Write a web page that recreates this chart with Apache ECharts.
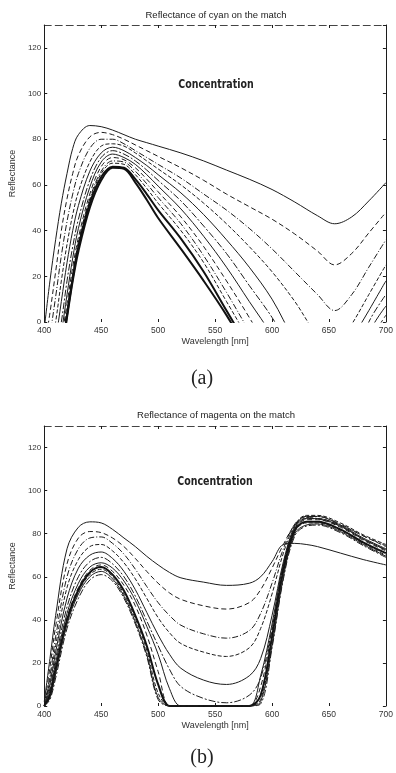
<!DOCTYPE html>
<html>
<head>
<meta charset="utf-8">
<script src="https://cdn.jsdelivr.net/npm/echarts@6/dist/echarts.min.js"></script>
<style>
html,body{margin:0;padding:0;background:#fff;}
#chart{width:396px;height:773px;}
</style>
</head>
<body>
<div id="chart"></div>
<script>
// ---------- Data ----------
const xTicks = [400, 450, 500, 550, 600, 650, 700];
const yTicks = [0, 20, 40, 60, 80, 100, 120];

// (a) Reflectance of cyan on the match
const wlCyan = [400,405,410,415,420,425,430,440,450,460,470,480,490,500,520,540,560,580,600,620,640,655,670,685,700];
const cyan1  = [-3,18,36,52,65,76,82,86,85.5,84,82,80,78.5,77,74,70.5,66.5,62.5,58,52.5,46.5,43,46,53,61];
const cyan2  = [-12,4,22,40,54,65,73,81,83,82,80,77.5,75,72.5,67.5,62,56,50.5,45,38.5,31,25,30,39,48];
const cyan3  = [-22,-6,11,29,44,56,65,76,80,80,78,75,72,69,63,56,49,41,32,22,12,5,12,24,36];
const cyan4  = [-30,-14,0,18,34,47,57,70,77,78,77,74,70.5,67,60,52,43,33,22,9,-6,-12,-1,12,25];
const cyan5  = [-38,-22,-8,9,26,40,51,66,74,76.5,75,72,68.5,64.5,56.5,47,36,24,10,-8,-20,-25,-8,5,18];
const cyan6  = [-45,-30,-14,0,18,33,45,62,72,75,73.5,70.5,66.5,62,53,42,30,16,2,-15,-30,-35,-20,0,12];
const cyan7  = [-50,-35,-20,-5,12,28,41,59,70,73.5,72,69,64.5,59.5,49.5,37.5,24,9,-6,-25,-40,-45,-30,-5,7];
const cyan8  = [-55,-40,-25,-8,8,24,37,56,68,72,71,67.5,62.5,57,46,33,18,2,-15,-35,-50,-55,-35,-10,3];
const cyan9  = [-57,-42,-27,-10,5,21,35,54,66,70.5,70,66,60.5,54.5,43,29,13,-4,-20,-40,-55,-60,-45,-20,-2];
const cyan10 = [-58,-43,-28,-12,4,20,34,53,65,69.5,69,64.5,58.5,52,40,26,9,-8,-25,-45,-60,-65,-50,-25,-5];
const cyan11 = [-59,-44,-29,-14,3,19,33,52,63.5,68,67.5,62.5,56,49,36.5,22,5,-12,-30,-50,-65,-70,-55,-30,-8];
const cyan12 = [-60,-45,-30,-15,2,18,31,50,62,67.5,67,61,53.5,45.5,32,18,3,-14,-32,-52,-68,-72,-58,-32,-10];

// (b) Reflectance of magenta on the match
const wlMagenta = [400,405,410,420,430,440,450,460,470,480,490,500,510,520,540,560,580,590,600,610,620,630,640,660,680,700];
const magenta1  = [2,22,42,73,83,85.5,85,82,78,74,69.5,65.5,62,59.5,57.5,56,57,60,67,75,75.5,75,74,71,68,65.5];
const magenta2  = [0,18,37,66,78,81,80.5,78,74,68.5,62.5,57,52.5,49.5,46.5,45,48,54,64,75,84,87,87,84,79,74];
const magenta3  = [0,14,32,60,73,78,78.5,75.5,70.5,63.5,55.5,48,42,37.5,33.5,31.5,35,43,57,73,84.5,88,88,84.5,79,74.5];
const magenta4  = [0,12,28,55,68,74,75,72,66.5,59,50,41,34,29,25,23,27,36,52,71,84,88.5,88.5,85,79.5,75];
const magenta5  = [0,10,25,50,64,70,71.5,68.5,62.5,54,43.5,33,24,17.5,12,10,14,22,42,67,83.5,88,88,84,78,73];
const magenta6  = [0,8,22,46,60,67,69,66,60,51,39.5,28,17,9,3.5,1.5,5,13,36,65,83,87.5,87,83.5,77.5,72.5];
const magenta7  = [0,7,20,43,57,64.5,66.5,64,58,49,37,24,8,0,0,0,0,14,38,66,82.5,87,87,83.5,77.5,72.5];
const magenta8  = [0,6,18,41,55,63,65.5,62.5,56,46.5,33,16,0,0,0,0,0,9,35,64,82,86.5,86.5,83,77,72];
const magenta9  = [0,5,17,40,54,62,64.5,61,53.5,42,28,10,0,0,0,0,0,5,32,63,81.5,85.5,85.5,82,76,71];
const magenta10 = [0,4,16,39,53,61,63.5,60,52,40.5,26,6,0,0,0,0,0,3,30,62,81,85,85,81.5,75.5,70];
const magenta11 = [0,4,15,38,52,60,62.5,59,51,39,24,4,0,0,0,0,0,2,28,60,80,84,84.5,81,75,69.5];
const magenta12 = [0,3,13,36,50,58.5,61,58,50,38,23,3,0,0,0,0,0,1,27,59,79,83.5,84,80.5,74.5,69];

const cyanCurves = [cyan1,cyan2,cyan3,cyan4,cyan5,cyan6,cyan7,cyan8,cyan9,cyan10,cyan11,cyan12];
const magentaCurves = [magenta1,magenta2,magenta3,magenta4,magenta5,magenta6,magenta7,magenta8,magenta9,magenta10,magenta11,magenta12];

// ---------- Chart ----------
const chart = echarts.init(document.getElementById('chart'), null, {renderer:'canvas'});
const FONT = 'Liberation Sans';
const INK = '#1c1c1c';
const dashTypes = ['solid', [5,3], [6,2,1,2], [4,2], 'solid', [7,2,2,2]];

function xAxes(gi) {
  return [
    {gridIndex:gi, type:'value', min:400, max:700, interval:50, position:'bottom',
     axisLine:{show:false, onZero:false}, axisTick:{show:true, inside:true, length:3, lineStyle:{color:INK}},
     axisLabel:{fontSize:8.5, color:'#333', fontFamily:FONT, margin:4}, splitLine:{show:false},
     name:'Wavelength [nm]', nameLocation:'middle', nameGap:15,
     nameTextStyle:{fontSize:9, color:'#333', fontFamily:FONT}},
    {gridIndex:gi, type:'value', min:400, max:700, interval:50, position:'top',
     axisLine:{show:true, onZero:false, lineStyle:{color:'#444', width:1, type:[7,4]}},
     axisTick:{show:true, inside:true, length:3, lineStyle:{color:INK}},
     axisLabel:{show:false}, splitLine:{show:false}}
  ];
}
function yAxes(gi) {
  return [
    {gridIndex:gi, type:'value', min:0, max:130, interval:20, position:'left',
     axisLine:{show:true, onZero:false, lineStyle:{color:INK, width:1}},
     axisTick:{show:true, inside:true, length:3, lineStyle:{color:INK}},
     axisLabel:{fontSize:8, color:'#333', fontFamily:FONT, margin:3, showMaxLabel:false},
     splitLine:{show:false},
     name:'Reflectance', nameLocation:'middle', nameGap:22,
     nameTextStyle:{fontSize:9, color:'#333', fontFamily:FONT}},
    {gridIndex:gi, type:'value', min:0, max:130, interval:20, position:'right',
     axisLine:{show:true, onZero:false, lineStyle:{color:INK, width:1}},
     axisTick:{show:true, inside:true, length:3, lineStyle:{color:INK}},
     axisLabel:{show:false}, splitLine:{show:false}}
  ];
}

const series = [];
function addCurves(wl, curves, xi, yi, thick) {
  curves.forEach((vals, i) => {
    const isThick = thick.indexOf(i) >= 0;
    series.push({
      type:'line', xAxisIndex:xi, yAxisIndex:yi,
      data: wl.map((w, k) => [w, vals[k]]),
      smooth:0.35, symbol:'none', silent:true, clip:true,
      lineStyle:{color: isThick ? '#111' : INK, width: isThick ? 2 : 1,
                 type: isThick ? 'solid' : dashTypes[i % dashTypes.length]}
    });
  });
}
addCurves(wlCyan, cyanCurves, 0, 0, [10, 11]);
addCurves(wlMagenta, magentaCurves, 2, 2, [8]);

function label(x, y, text, font, extra) {
  return Object.assign({type:'text', x:x, y:y, silent:true,
    style:{x:0, y:0, text:text, textAlign:'center', textVerticalAlign:'middle', font:font, fill:'#222'}}, extra || {});
}

const option = {
  backgroundColor:'#fff',
  animation:false,
  grid:[
    {left:40, top:25, width:351, height:297},
    {left:39, top:426, width:352, height:280}
  ],
  xAxis:[...xAxes(0), ...xAxes(1)],
  yAxis:[...yAxes(0), ...yAxes(1)],
  series:series,
  graphic:[
    label(216, 15, 'Reflectance of cyan on the match', '9.5px "Liberation Sans"'),
    label(216, 85, 'Concentration', 'bold 12.5px "DejaVu Sans Condensed", "DejaVu Sans"', {scaleX:0.84}),
    label(202, 379, '(a)', '20px "Liberation Serif"'),
    label(216, 415, 'Reflectance of magenta on the match', '9.5px "Liberation Sans"'),
    label(215, 482, 'Concentration', 'bold 12.5px "DejaVu Sans Condensed", "DejaVu Sans"', {scaleX:0.84}),
    label(202, 758, '(b)', '20px "Liberation Serif"')
  ]
};
chart.setOption(option);
</script>
</body>
</html>
